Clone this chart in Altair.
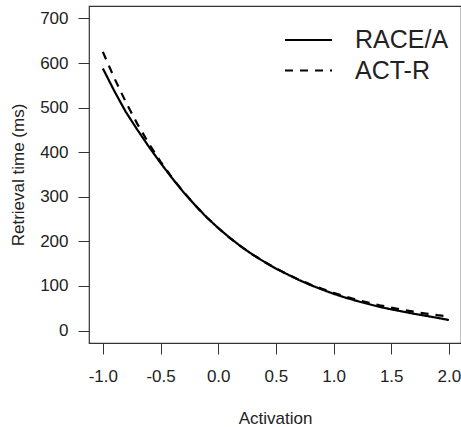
import altair as alt
import pandas as pd

activation = [-1.0, -0.9, -0.8, -0.7, -0.6, -0.5, -0.4, -0.3, -0.2, -0.1, 0.0,
              0.1, 0.2, 0.3, 0.4, 0.5, 0.6, 0.7, 0.8, 0.9, 1.0,
              1.1, 1.2, 1.3, 1.4, 1.5, 1.6, 1.7, 1.8, 1.9, 2.0]
race_a = [588, 537, 490, 450, 412, 376, 342, 310, 281, 254, 230,
          208, 188, 170, 154, 139, 126, 113.5, 102, 92, 82.5,
          74, 66.5, 59.5, 53, 47.5, 42.5, 37.5, 33, 28.5, 23.5]
act_r = [625, 566, 512, 463, 419, 379, 343, 310.5, 281, 254, 230,
         208, 188, 170.4, 154.2, 139.5, 126.2, 114.2, 103.3, 93.5, 84.6,
         76.6, 69.3, 62.7, 56.7, 51.3, 46.4, 42.0, 38.0, 34.4, 31.5]
legend_labels = ["RACE/A", "ACT-R"]
x_ticks = [-1.0, -0.5, 0.0, 0.5, 1.0, 1.5, 2.0]
y_ticks = [0, 100, 200, 300, 400, 500, 600, 700]

FONT = "Liberation Sans"
TXT = "#222222"
AX = "#333333"

df = pd.DataFrame({
    "Activation": activation * 2,
    "RT": race_a + act_r,
    "Model": ["RACE/A"] * len(activation) + ["ACT-R"] * len(activation),
})

xs = alt.Scale(domain=[-1.12, 2.105], nice=False, zero=False)
ys = alt.Scale(domain=[-28, 728], nice=False, zero=False)

xaxis = alt.Axis(
    values=x_ticks, grid=False, domain=False, tickSize=11, tickColor=AX,
    labelExpr="datum.value < 0 ? '-' + format(-datum.value, '.1f') : format(datum.value, '.1f')",
    labelFont=FONT, labelFontSize=17, labelColor=TXT, labelPadding=14,
    labelBaseline="top",
    title="Activation", titleFont=FONT, titleFontSize=17, titleFontWeight="normal",
    titleColor=TXT, titleBaseline="middle", titleY=75,
)
yaxis = alt.Axis(
    values=y_ticks, grid=False, domain=False, tickSize=11, tickColor=AX,
    format="d", labelAngle=0,
    labelFont=FONT, labelFontSize=17, labelColor=TXT, labelPadding=10,
    labelBaseline="middle",
    title="Retrieval time (ms)", titleFont=FONT, titleFontSize=17,
    titleFontWeight="normal", titleColor=TXT, titleAngle=270,
    titleAlign="center", titleBaseline="middle", titleX=-71, titleY=168.5,
)

lines = alt.Chart(df).mark_line(color="black", strokeWidth=2.2).encode(
    x=alt.X("Activation:Q", scale=xs, axis=xaxis),
    y=alt.Y("RT:Q", scale=ys, axis=yaxis),
    strokeDash=alt.StrokeDash(
        "Model:N",
        scale=alt.Scale(domain=legend_labels, range=[[1, 0], [8, 7]]),
        legend=None,
    ),
    detail="Model:N",
)

leg_df = pd.DataFrame({"label": legend_labels})

rule1 = alt.Chart(leg_df).transform_filter(alt.datum.label == "RACE/A").mark_rule(
    color="black", strokeWidth=2.2
).encode(x=alt.value(196), x2=alt.value(243), y=alt.value(34))
rule2 = alt.Chart(leg_df).transform_filter(alt.datum.label == "ACT-R").mark_rule(
    color="black", strokeWidth=2.2, strokeDash=[8, 7]
).encode(x=alt.value(196), x2=alt.value(243), y=alt.value(64.5))
text1 = alt.Chart(leg_df).transform_filter(alt.datum.label == "RACE/A").mark_text(
    font=FONT, fontSize=25, color=TXT, align="left", baseline="middle"
).encode(x=alt.value(266), y=alt.value(34), text="label:N")
text2 = alt.Chart(leg_df).transform_filter(alt.datum.label == "ACT-R").mark_text(
    font=FONT, fontSize=25, color=TXT, align="left", baseline="middle"
).encode(x=alt.value(266), y=alt.value(64.5), text="label:N")

chart = alt.layer(lines, rule1, rule2, text1, text2).properties(
    width=372, height=337,
    autosize=alt.AutoSizeParams(type="none"),
    padding={"left": 89, "top": 6, "right": 0, "bottom": 84},
    background="white",
).configure_view(stroke=AX, strokeWidth=1.2)

chart.save("out.html", embed_options={"renderer": "svg", "actions": False})
